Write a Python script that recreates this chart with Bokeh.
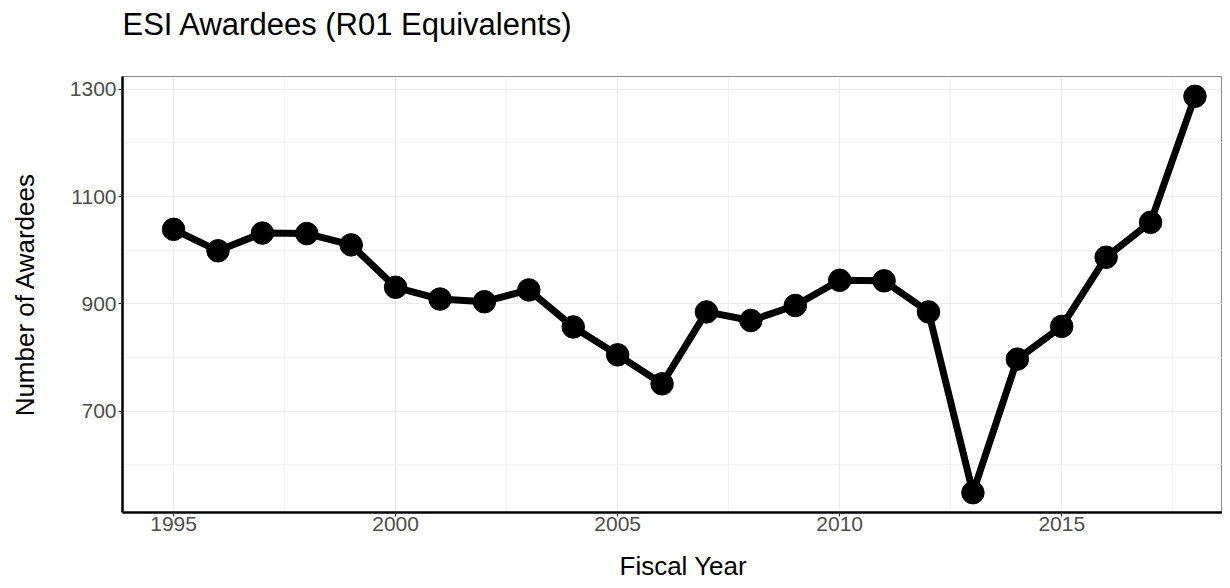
from bokeh.plotting import figure
from bokeh.models import Range1d, FixedTicker, Title
from bokeh.embed import file_html
from bokeh.resources import INLINE

# ---- data ----
years = [1995, 1996, 1997, 1998, 1999, 2000, 2001, 2002, 2003, 2004, 2005, 2006,
         2007, 2008, 2009, 2010, 2011, 2012, 2013, 2014, 2015, 2016, 2017, 2018]
awardees = [1039, 999, 1032, 1031, 1010, 931, 909, 904, 926, 857, 805, 751,
            885, 869, 897, 944, 943, 885, 548, 797, 858, 987, 1052, 1287]
x_ticks = [1995, 2000, 2005, 2010, 2015]
x_minor = [1997.5, 2002.5, 2007.5, 2012.5, 2017.5]
y_ticks = [700, 900, 1100, 1300]
y_minor = [600, 800, 1000, 1200]
title_text = "ESI Awardees (R01 Equivalents)"
x_title = "Fiscal Year"
y_title = "Number of Awardees"

FONT = "Liberation Sans"

span_x = max(years) - min(years)
span_y = max(awardees) - min(awardees)
x0 = min(years) - 0.05 * span_x
y0 = min(awardees) - 0.05 * span_y
y1 = max(awardees) + 0.05 * span_y

p = figure(width=1222, height=580, output_backend="svg", toolbar_location=None,
           title=None,
           x_range=Range1d(x0, 2018.62), y_range=Range1d(y0, y1),
           min_border_left=122, min_border_right=0, min_border_top=76,
           min_border_bottom=68)

# blank spacer next to the frame, then the main title further out
p.add_layout(Title(text=" ", text_font=FONT, text_font_size="22px",
                   standoff=8), "above")
p.add_layout(Title(text=title_text, text_font=FONT, text_font_size="31px",
                   text_font_style="normal", text_color="black",
                   align="left", offset=0, standoff=0), "above")

# blank spacer below the x axis, then the x-axis title
p.add_layout(Title(text=" ", text_font=FONT, text_font_size="5px",
                   standoff=7), "below")
p.add_layout(Title(text=x_title, text_font=FONT, text_font_size="26px",
                   text_font_style="normal", text_color="black",
                   align="left", offset=497, standoff=0), "below")

p.background_fill_color = "white"
p.border_fill_color = "white"
p.outline_line_color = "#8a8a8a"
p.outline_line_width = 1

# grids
p.xaxis.ticker = FixedTicker(ticks=x_ticks, minor_ticks=x_minor)
p.yaxis.ticker = FixedTicker(ticks=y_ticks, minor_ticks=y_minor)
for g in (p.xgrid, p.ygrid):
    g.grid_line_color = "#EBEBEB"
    g.grid_line_width = 1.1
    g.minor_grid_line_color = "#EBEBEB"
    g.minor_grid_line_width = 0.6

# axes
for ax in (p.xaxis, p.yaxis):
    ax.axis_line_color = "black"
    ax.axis_line_width = 2.5
    ax.major_tick_line_color = "#333333"
    ax.major_tick_line_width = 1.1
    ax.major_tick_in = 0
    ax.major_tick_out = 4
    ax.minor_tick_line_color = None
    ax.major_label_text_font = FONT
    ax.major_label_text_font_size = "21px"
    ax.major_label_text_color = "#4D4D4D"
p.xaxis.major_label_standoff = 0
p.yaxis.major_label_standoff = 2

p.yaxis.axis_label = y_title
p.yaxis.axis_label_text_font = FONT
p.yaxis.axis_label_text_font_size = "26px"
p.yaxis.axis_label_text_font_style = "normal"
p.yaxis.axis_label_text_color = "black"
p.yaxis.axis_label_standoff = 27

# data
p.line(years, awardees, line_width=7, line_color="black", line_join="round")
p.scatter(years, awardees, size=22.5, fill_color="black", line_color="black")

open("out.html", "w").write(file_html(p, INLINE))
